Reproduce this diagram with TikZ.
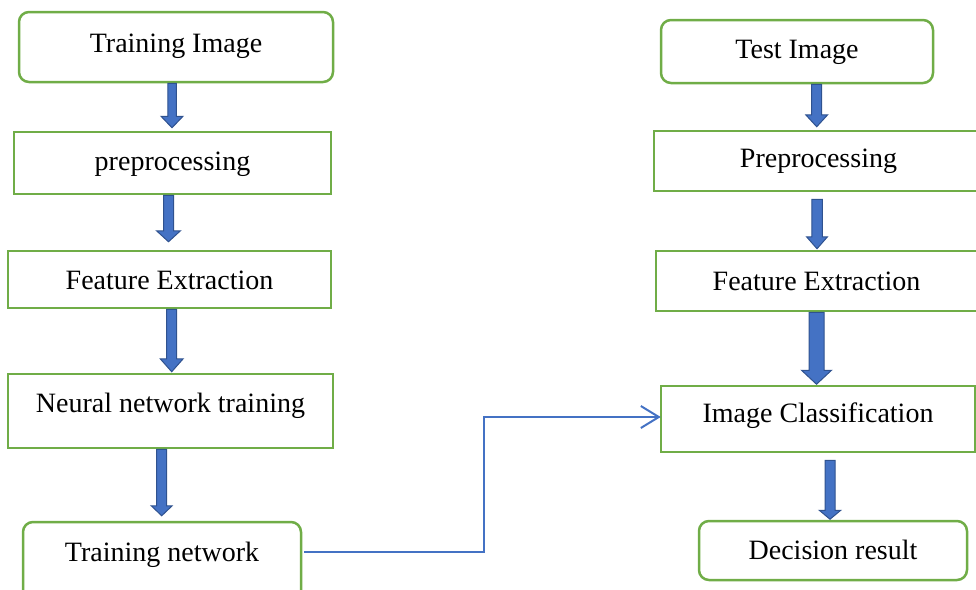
\documentclass[tikz,border=0pt]{standalone}
\usepackage{fontspec}
\setmainfont{Liberation Serif}
\usetikzlibrary{calc,arrows.meta}
\definecolor{boxgreen}{HTML}{70AD47}
\definecolor{arrfill}{HTML}{4472C4}
\definecolor{arredge}{HTML}{2F528F}
\definecolor{connblue}{HTML}{4472C4}
\tikzset{
  box/.style={draw=boxgreen, line width=2.5pt, fill=white, inner sep=0pt},
  rbox/.style={box, rounded corners=10pt},
  txt/.style={font=\fontsize{28}{33}\selectfont, inner sep=0pt},
  barrowstyle/.style={fill=arrfill, draw=arredge, line width=1pt, line join=miter},
  conn/.style={draw=connblue, line width=2pt, -{Straight Barb[length=18pt,width=22pt,line width=2pt]}}
}
% block arrow: top node, bottom node, x, top gap, bottom gap, shaft width, head width, head length
\newcommand\barrow[8]{%
  \path[barrowstyle] let \p1=(#1.south), \p2=(#2.north) in
    ({#3pt-#6pt/2},{\y1-#4pt}) -- ({#3pt+#6pt/2},{\y1-#4pt})
    -- ({#3pt+#6pt/2},{\y2+#5pt+#8pt}) -- ({#3pt+#7pt/2},{\y2+#5pt+#8pt})
    -- ({#3pt},{\y2+#5pt}) -- ({#3pt-#7pt/2},{\y2+#5pt+#8pt})
    -- ({#3pt-#6pt/2},{\y2+#5pt+#8pt}) -- cycle;}
\begin{document}
\begin{tikzpicture}[x=1pt,y=-1pt]
\useasboundingbox (0,0) rectangle (976,589);
\clip (0,0) rectangle (976,589);
% left column
\node[rbox, minimum width=314pt, minimum height=70pt,
  label={[txt,name=tit,yshift=0.5pt]center:Training Image}] (ti) at (176,47) {};
\node[box, minimum width=317pt, minimum height=62pt,
  label={[txt,name=ppt,yshift=-1pt]center:preprocessing}] (pp) at (172.5,163) {};
\node[box, minimum width=323pt, minimum height=57pt,
  label={[txt,name=fet,yshift=-1pt]center:Feature Extraction}] (fe) at (169.5,279.5) {};
\node[box, minimum width=325pt, minimum height=74pt,
  label={[txt,name=nnt,yshift=5pt]center:Neural network training}] (nn) at (170.5,411) {};
\node[rbox, minimum width=278pt, minimum height=98pt,
  label={[txt,name=tnt,yshift=16pt]center:Training network}] (tn) at (162,571) {};
% right column
\node[rbox, minimum width=272pt, minimum height=63pt,
  label={[txt,name=tst,yshift=-1pt]center:Test Image}] (ts) at (797,51.5) {};
\node[box, minimum width=329pt, minimum height=60pt,
  label={[txt,name=pp2t,yshift=0pt]center:Preprocessing}] (pp2) at (818.5,161) {};
\node[box, minimum width=321pt, minimum height=60pt,
  label={[txt,name=fe2t,yshift=0pt]center:Feature Extraction}] (fe2) at (816.5,281) {};
\node[box, minimum width=314pt, minimum height=66pt,
  label={[txt,name=ict,yshift=3pt]center:Image Classification}] (ic) at (818,419) {};
\node[rbox, minimum width=268pt, minimum height=59pt,
  label={[txt,name=drt,yshift=0.5pt]center:Decision result}] (dr) at (833,550.5) {};
% block arrows
\barrow{ti}{pp}{172}{0}{3}{8.5}{22}{11.5}
\barrow{pp}{fe}{168.5}{0}{8}{10}{24}{11}
\barrow{fe}{nn}{171.7}{0}{1}{10}{23}{13}
\barrow{nn}{tn}{161.7}{0}{5}{10}{21}{10}
\barrow{ts}{pp2}{816.7}{0}{3}{10}{22}{12}
\barrow{pp2}{fe2}{817}{7}{1}{10.5}{21}{12}
\barrow{fe2}{ic}{816.5}{0}{0.5}{15}{30}{14}
\barrow{ic}{dr}{830}{7}{0.5}{10}{21.5}{9}
% connector
\coordinate (jn) at (484,417);
\draw[conn] ([xshift=2pt]tn.east |- 0,552) -| (jn) -- ([xshift=1pt]ic.west |- jn);
\end{tikzpicture}
\end{document}
